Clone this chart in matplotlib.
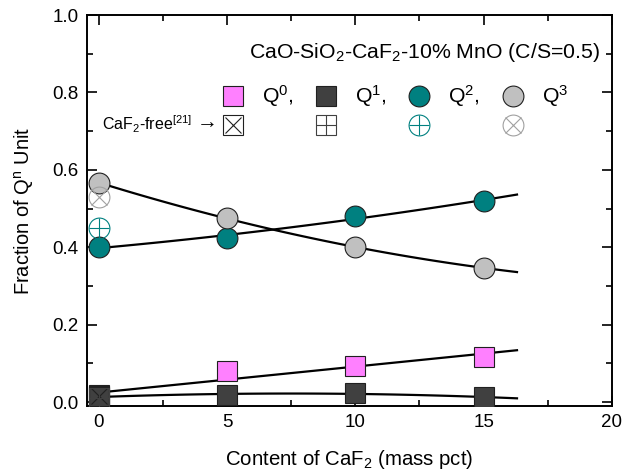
import numpy as np
import matplotlib
matplotlib.use("Agg")
import matplotlib.pyplot as plt
from matplotlib.ticker import MultipleLocator

plt.rcParams['font.family'] = ['Liberation Sans', 'DejaVu Sans']
plt.rcParams['mathtext.fontset'] = 'custom'
plt.rcParams['mathtext.rm'] = 'Liberation Sans'
plt.rcParams['mathtext.it'] = 'Liberation Sans'

# data
caf2 = [0, 5, 10, 15]
q0 = [0.018, 0.081, 0.094, 0.116]
q1 = [0.014, 0.018, 0.024, 0.012]
q2 = [0.400, 0.425, 0.480, 0.520]
q3 = [0.567, 0.475, 0.400, 0.347]
# CaF2-free reference [21], at 0 pct
free = [0.015, 0.010, 0.450, 0.530]

names = ['Q$^0$,', 'Q$^1$,', 'Q$^2$,', 'Q$^3$']
fills = ['#ff80ff', '#404040', '#008080', '#c0c0c0']
shapes = ['s', 's', 'o', 'o']
free_cols = ['#202020', '#404040', '#008080', '#a0a0a0']
free_marks = ['x', '+', '+', 'x']
fit_deg = [1, 2, 2, 2]

fig, ax = plt.subplots(figsize=(6.27, 4.72), dpi=100)
fig.subplots_adjust(left=0.139, right=0.976, top=0.968, bottom=0.140)

# fitted curves (Q0 fit also uses the CaF2-free point)
xf = np.linspace(0, 16.3, 100)
for i, (ys, d) in enumerate(zip([q0, q1, q2, q3], fit_deg)):
    xs, yy = caf2, ys
    if i == 0:
        xs, yy = [0] + caf2, [free[0]] + ys
    p = np.polyfit(xs, yy, d)
    ax.plot(xf, np.polyval(p, xf), color='black', lw=1.6, zorder=2)

for ys, c, m in zip([q0, q1, q2, q3], fills, shapes):
    ax.plot(caf2, ys, ls='none', marker=m, ms=15, mfc=c, mec='#202020', mew=0.8, zorder=3)

for v, m, fm, f in zip(free, shapes, free_marks, free_cols):
    ax.plot([0], [v], ls='none', marker=m, ms=15, mfc='none', mec=f, mew=0.8, zorder=4)
    ax.plot([0], [v], ls='none', marker=fm, ms=11 if fm == 'x' else 15, mec=f, mew=0.8, zorder=4)

# legend drawn by hand
ax.text(0.978, 0.905, 'CaO-SiO$_2$-CaF$_2$-10% MnO (C/S=0.5)', transform=ax.transAxes,
        ha='right', va='center', fontsize=15.3)
lx = [0.278, 0.455, 0.633, 0.811]
for x, c, m, n, f, fm in zip(lx, fills, shapes, names, free_cols, free_marks):
    ax.plot([x], [0.792], transform=ax.transAxes, marker=m, ms=15, mfc=c, mec='#202020', mew=0.8, clip_on=False)
    ax.text(x + 0.055, 0.792, n, transform=ax.transAxes, ha='left', va='center', fontsize=15.3)
    ax.plot([x], [0.72], transform=ax.transAxes, marker=m, ms=15, mfc='none', mec=f, mew=0.8, clip_on=False)
    ax.plot([x], [0.72], transform=ax.transAxes, marker=fm, ms=11 if fm == 'x' else 15, mec=f, mew=0.8, clip_on=False)
ax.text(0.200, 0.72, 'CaF$_2$-free$^{[21]}$', transform=ax.transAxes,
        ha='right', va='center', fontsize=11.5)
ax.text(0.222, 0.728, '$\\rightarrow$', transform=ax.transAxes,
        ha='center', va='center', fontsize=15)

ax.set_xlim(-0.45, 20)
ax.set_ylim(-0.01, 1.0)
ax.xaxis.set_major_locator(MultipleLocator(5))
ax.xaxis.set_minor_locator(MultipleLocator(2.5))
ax.yaxis.set_major_locator(MultipleLocator(0.2))
ax.yaxis.set_minor_locator(MultipleLocator(0.1))
ax.tick_params(which='both', direction='in', top=True, right=True, labelsize=13.5, width=1.2)
ax.tick_params(which='major', length=7, pad=6)
ax.tick_params(which='minor', length=4)
for s in ax.spines.values():
    s.set_linewidth(1.4)

ax.set_xlabel('Content of CaF$_2$ (mass pct)', fontsize=14.7, labelpad=12)
ax.set_ylabel('Fraction of Q$^n$ Unit', fontsize=14.5, labelpad=12)

fig.savefig('out.png', dpi=100)
